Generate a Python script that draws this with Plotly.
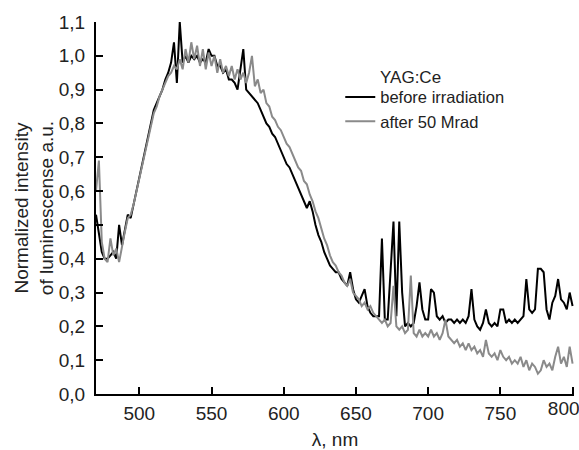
import plotly.graph_objects as go

wavelength = list(range(470, 801, 2))

before_irradiation = [
    0.53, 0.47, 0.42, 0.40, 0.40, 0.41, 0.42, 0.40, 0.50, 0.44,  # 470-488
    0.49, 0.53, 0.52, 0.56, 0.60, 0.64, 0.68, 0.72, 0.76, 0.80,  # 490-508
    0.84, 0.86, 0.88, 0.90, 0.93, 0.95, 0.98, 1.04, 0.92, 1.10,  # 510-528
    0.98, 1.00, 0.98, 1.00, 0.99, 1.00, 0.98, 0.99, 0.98, 1.02,  # 530-548
    1.00, 1.00, 0.97, 0.97, 0.95, 0.96, 0.93, 0.93, 0.92, 0.90,  # 550-568
    0.96, 1.02, 0.90, 0.89, 0.88, 0.87, 0.86, 0.84, 0.82, 0.80,  # 570-588
    0.79, 0.77, 0.76, 0.74, 0.72, 0.70, 0.68, 0.67, 0.65, 0.63,  # 590-608
    0.61, 0.59, 0.57, 0.55, 0.57, 0.54, 0.50, 0.47, 0.45, 0.42,  # 610-628
    0.40, 0.38, 0.37, 0.36, 0.36, 0.34, 0.33, 0.32, 0.36, 0.31,  # 630-648
    0.28, 0.27, 0.29, 0.31, 0.26, 0.24, 0.23, 0.23, 0.23, 0.46,  # 650-668
    0.22, 0.22, 0.38, 0.51, 0.23, 0.51, 0.30, 0.20, 0.21, 0.20,  # 670-688
    0.21, 0.26, 0.33, 0.25, 0.22, 0.22, 0.31, 0.30, 0.23, 0.22,  # 690-708
    0.23, 0.21, 0.22, 0.22, 0.21, 0.22, 0.21, 0.22, 0.21, 0.23,  # 710-728
    0.31, 0.22, 0.20, 0.19, 0.21, 0.25, 0.21, 0.20, 0.21, 0.20,  # 730-748
    0.25, 0.25, 0.21, 0.22, 0.21, 0.22, 0.21, 0.22, 0.23, 0.34,  # 750-768
    0.25, 0.24, 0.25, 0.37, 0.37, 0.36, 0.25, 0.22, 0.27, 0.29,  # 770-788
    0.34, 0.28, 0.27, 0.25, 0.30, 0.26,                          # 790-800
]

after_50_mrad = [
    0.60, 0.69, 0.45, 0.40, 0.39, 0.46, 0.41, 0.43, 0.39, 0.44,  # 470-488
    0.48, 0.52, 0.53, 0.56, 0.60, 0.64, 0.68, 0.72, 0.76, 0.79,  # 490-508
    0.83, 0.85, 0.88, 0.90, 0.92, 0.94, 0.95, 0.97, 0.96, 0.99,  # 510-528
    0.96, 1.02, 0.98, 1.04, 0.99, 1.03, 0.97, 1.02, 0.96, 1.01,  # 530-548
    0.97, 1.00, 0.95, 0.99, 0.95, 0.97, 0.94, 0.97, 0.93, 0.96,  # 550-568
    0.93, 0.95, 0.92, 0.95, 1.00, 0.91, 0.93, 0.89, 0.90, 0.86,  # 570-588
    0.85, 0.82, 0.81, 0.79, 0.78, 0.76, 0.74, 0.73, 0.71, 0.69,  # 590-608
    0.67, 0.66, 0.63, 0.62, 0.59, 0.57, 0.54, 0.52, 0.49, 0.46,  # 610-628
    0.44, 0.41, 0.39, 0.38, 0.36, 0.35, 0.33, 0.32, 0.34, 0.30,  # 630-648
    0.29, 0.28, 0.26, 0.27, 0.25, 0.26, 0.24, 0.23, 0.22, 0.21,  # 650-668
    0.22, 0.20, 0.21, 0.32, 0.20, 0.19, 0.20, 0.18, 0.19, 0.35,  # 670-688
    0.18, 0.17, 0.19, 0.17, 0.18, 0.17, 0.19, 0.17, 0.18, 0.16,  # 690-708
    0.18, 0.22, 0.17, 0.16, 0.15, 0.16, 0.14, 0.15, 0.13, 0.15,  # 710-728
    0.13, 0.14, 0.12, 0.13, 0.11, 0.16, 0.12, 0.11, 0.12, 0.10,  # 730-748
    0.13, 0.11, 0.10, 0.11, 0.09, 0.10, 0.09, 0.11, 0.08, 0.10,  # 750-768
    0.07, 0.09, 0.08, 0.06, 0.07, 0.10, 0.08, 0.09, 0.07, 0.11,  # 770-788
    0.14, 0.09, 0.11, 0.08, 0.14, 0.09,                          # 790-800
]

x_ticks = [500, 550, 600, 650, 700, 750, 800]
x_tick_labels = ["500", "550", "600", "650", "700", "750", ""]
x_edge_tick = [800]
x_edge_label = ["800"]
y_ticks = [0.0, 0.1, 0.2, 0.3, 0.4, 0.5, 0.6, 0.7, 0.8, 0.9, 1.0, 1.1]

FONT = "Liberation Sans, Arial, sans-serif"
X_RANGE = [470, 801]

fig = go.Figure()
fig.add_trace(go.Scatter(x=wavelength, y=before_irradiation, mode="lines",
                         name="before irradiation",
                         line=dict(color="#000000", width=2)))
fig.add_trace(go.Scatter(x=wavelength, y=after_50_mrad, mode="lines",
                         name="after 50 Mrad",
                         line=dict(color="#8a8a8a", width=2)))
# empty carrier so the edge-label axis is drawn
fig.add_trace(go.Scatter(x=[], y=[], xaxis="x2", yaxis="y", mode="lines",
                         showlegend=False, hoverinfo="skip"))

fig.update_layout(
    width=579, height=450,
    margin=dict(l=96, r=5, t=22, b=56),
    paper_bgcolor="white", plot_bgcolor="white",
    separators=", ",
    font=dict(family=FONT, size=19, color="#222222"),
    showlegend=True,
    legend=dict(x=0.511, y=0.845, xanchor="left", yanchor="top",
                font=dict(family=FONT, size=16.5, color="#222222"),
                bgcolor="rgba(0,0,0,0)", tracegroupgap=0, itemwidth=30),
    annotations=[dict(text="YAG:Ce", x=0.591, y=0.852, xref="paper", yref="paper",
                      xanchor="left", yanchor="middle", showarrow=False,
                      font=dict(family=FONT, size=17, color="#222222"))],
    xaxis=dict(
        range=X_RANGE, tickvals=x_ticks, ticktext=x_tick_labels,
        ticks="inside", ticklen=7, tickwidth=2, automargin=False,
        tickcolor="black", showline=True, linecolor="black", linewidth=2,
        showgrid=False, zeroline=False, mirror=False, ticklabelstandoff=1,
        title=dict(text="λ, nm", standoff=11, font=dict(family=FONT, size=19)),
    ),
    xaxis2=dict(
        range=X_RANGE, overlaying="x", anchor="y", side="bottom",
        tickvals=x_edge_tick, ticktext=x_edge_label, ticks="",
        ticklabelposition="outside left", ticklabelshift=7,
        ticklabelstandoff=1, ticklabeloverflow="allow", automargin=False,
        showline=False, showgrid=False, zeroline=False,
    ),
    yaxis=dict(
        range=[0, 1.1], tickvals=y_ticks, tickformat=".1f", ticks="inside",
        ticklen=7, tickwidth=2, tickcolor="black", showline=True,
        linecolor="black", automargin=False,
        linewidth=2, showgrid=False, zeroline=False, mirror=False,
        ticklabelstandoff=5,
        title=dict(text="Normalized intensity<br>of luminescense a.u.",
                   standoff=0, font=dict(family=FONT, size=19)),
    ),
)

fig.write_html("out.html", config={"displayModeBar": False},
               post_script="document.body.style.margin='0px';")
